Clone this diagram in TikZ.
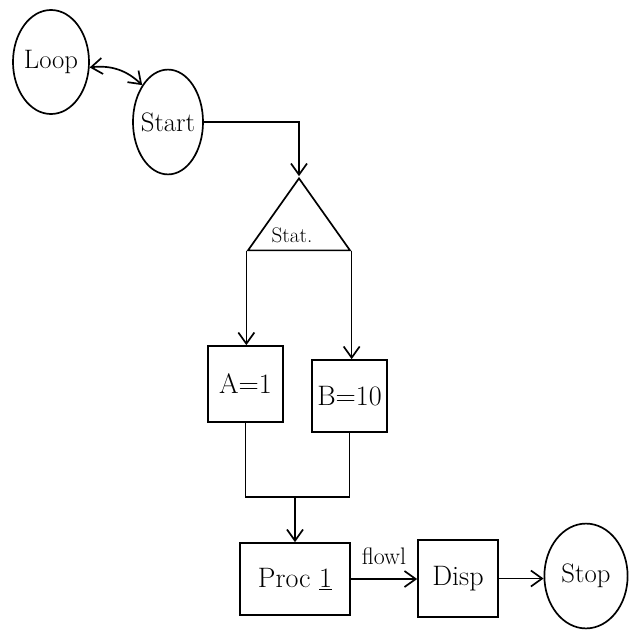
\documentclass[tikz,border=0pt]{standalone}
\usetikzlibrary{shapes.geometric,arrows.meta}
\begin{document}
\begin{tikzpicture}[x=0.025cm,y=-0.025cm,
  line width=1.2pt,
  conn/.style={-{Straight Barb[length=0.28cm,width=0.4cm]}},
  ell/.style={draw,ellipse,inner sep=-3pt,font=\fontsize{19}{21}\selectfont},
  boxn/.style={draw,rectangle,inner sep=0pt,font=\fontsize{20}{22}\selectfont},
  tri/.style={draw,isosceles triangle,isosceles triangle stretches,shape border rotate=90,inner sep=0pt}]
\useasboundingbox (0,0) rectangle (640,640);
\node[ell,minimum width=1.9cm,minimum height=2.6cm] (loop) at (51,62) {Loop};
\node[ell,minimum width=1.75cm,minimum height=2.62cm] (start) at (168,122) {Start};
\node[tri,minimum width=2.55cm,minimum height=1.8cm] (stat) at (299,224) {};
\node[font=\fontsize{15}{17}\selectfont] (stattext) at (292,235) {Stat.};
\node[boxn,minimum width=1.88cm,minimum height=1.9cm] (a) at (245.5,384) {A=1};
\node[boxn,minimum width=1.88cm,minimum height=1.8cm] (b) at (349.5,396) {B=10};
\node[boxn,minimum width=2.75cm,minimum height=1.8cm] (proc) at (295,579) {Proc \underline{1}};
\node[boxn,minimum width=2.0cm,minimum height=1.92cm] (disp) at (458,578.5) {Disp};
\node[ell,minimum width=2.08cm,minimum height=2.62cm] (stop) at (586,576) {Stop};
\coordinate (merge) at (295,497);
\draw[{Straight Barb[length=0.28cm,width=0.4cm]}-{Straight Barb[length=0.28cm,width=0.4cm]}] (loop.-8) to[bend left=25] (start.125);
\draw[conn] (start.east) -| (stat.apex);
\draw[conn] (stat.left corner) -- (stat.left corner |- a.north);
\draw[conn] (stat.right corner) -- (stat.right corner |- b.north);
\draw (a.south) |- (merge) -| (b.south);
\draw[conn] (merge) -- (proc.north);
\draw[conn] (proc.east) -- node[above=6pt,font=\fontsize{17}{19}\selectfont] (flowl) {flowl} (proc.east -| disp.west);
\draw[conn] (disp.east) -- (disp.east -| stop.west);
\end{tikzpicture}
\end{document}
